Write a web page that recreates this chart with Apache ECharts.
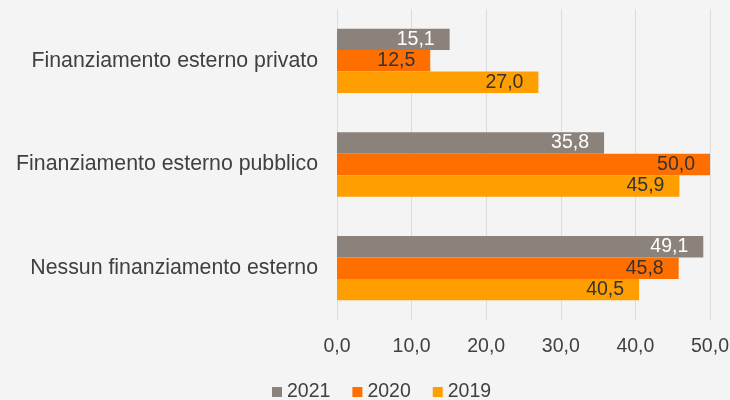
<!DOCTYPE html>
<html lang="it">
<head>
    <meta charset="UTF-8">
    <title>Finanziamento esterno</title>
    <script src="https://cdn.jsdelivr.net/npm/echarts@6/dist/echarts.min.js"></script>
    <style>
        html, body { margin: 0; padding: 0; background: #f4f4f4; }
        #chart { width: 730px; height: 400px; }
    </style>
</head>
<body>
<div id="chart"></div>
<script>
    // dati (dall'alto in basso)
    var categorie = ['Finanziamento esterno privato', 'Finanziamento esterno pubblico', 'Nessun finanziamento esterno'];
    var anni = ['2021', '2020', '2019'];
    var v2021 = [15.1, 35.8, 49.1];
    var v2020 = [12.5, 50.0, 45.8];
    var v2019 = [27.0, 45.9, 40.5];
    var colori = ['#8c827c', '#ff6f00', '#ff9e00'];
    var coloriEtichette = ['#ffffff', '#333333', '#333333'];

    var font = 'Liberation Sans, Arial, sans-serif';
    var fs = 19.5;
    var valori = [v2021, v2020, v2019];

    var serie = [];
    for (var i = 0; i < anni.length; i++) {
        serie.push({
            name: anni[i],
            type: 'bar',
            data: valori[i],
            barGap: '0%',
            barCategoryGap: '38%',
            itemStyle: { color: colori[i] },
            label: {
                show: true,
                position: 'insideRight',
                distance: 15,
                color: coloriEtichette[i],
                fontFamily: font,
                fontSize: fs,
                formatter: function (p) { return p.value.toFixed(1).replace('.', ','); }
            }
        });
    }

    var myChart = echarts.init(document.getElementById('chart'));
    var option = {
        backgroundColor: '#f4f4f4',
        animation: false,
        grid: { left: 337, right: 20, top: 9, bottom: 80, containLabel: false, outerBoundsMode: 'none' },
        legend: {
            data: anni,
            top: 377,
            left: 267,
            itemWidth: 10,
            itemHeight: 10,
            itemGap: 22,
            icon: 'rect',
            textStyle: { fontFamily: font, fontSize: fs, color: '#404040' }
        },
        xAxis: {
            type: 'value',
            min: 0,
            max: 50,
            interval: 10,
            axisLine: { show: false },
            axisTick: { show: false },
            splitLine: { lineStyle: { color: '#dcdcdc', width: 1 } },
            axisLabel: {
                margin: 17,
                color: '#404040',
                fontFamily: font,
                fontSize: fs,
                formatter: function (v) { return v.toFixed(1).replace('.', ','); }
            }
        },
        yAxis: {
            type: 'category',
            inverse: true,
            data: categorie,
            axisLine: { show: false },
            axisTick: { show: false },
            axisLabel: {
                margin: 19,
                color: '#404040',
                fontFamily: font,
                fontSize: 21.3
            }
        },
        series: serie
    };
    myChart.setOption(option);
</script>
</body>
</html>
